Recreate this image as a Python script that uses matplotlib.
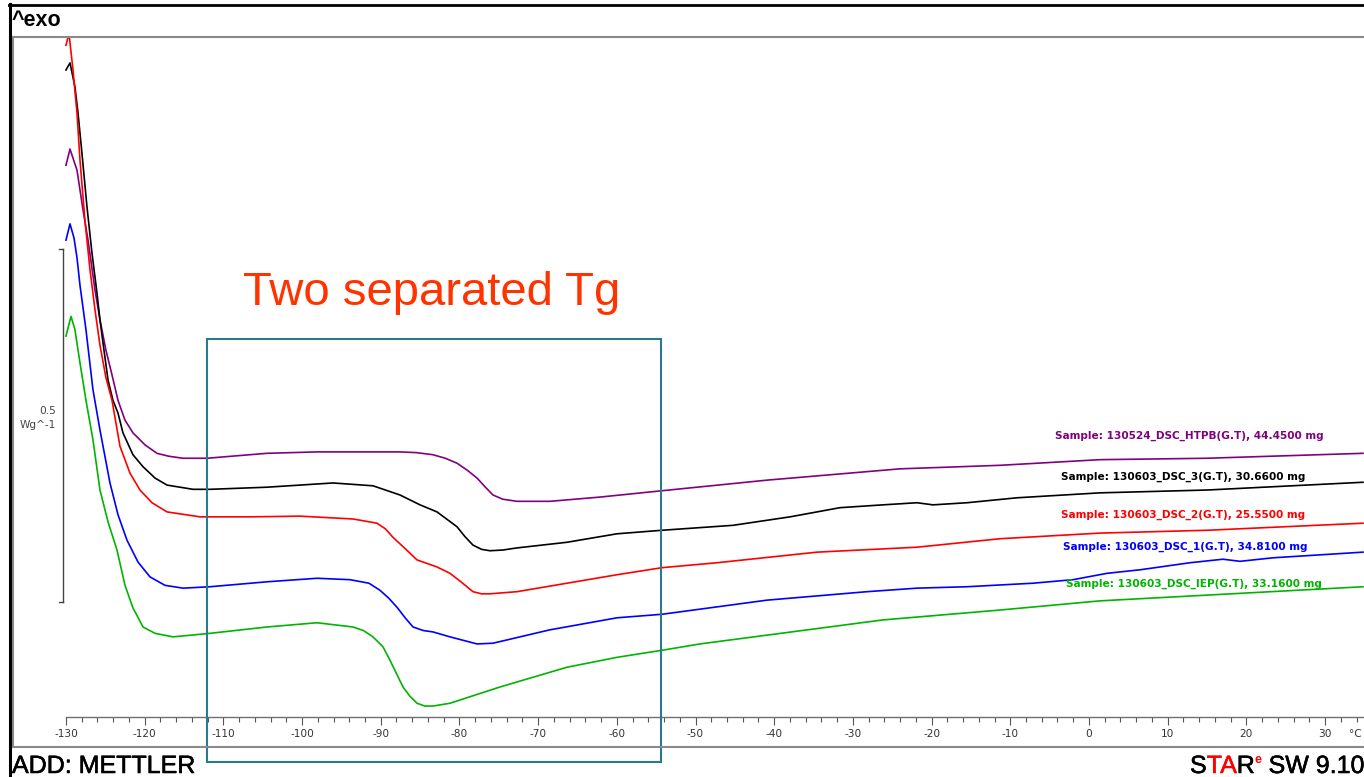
import numpy as np
import matplotlib
matplotlib.use("Agg")
import matplotlib.pyplot as plt
import matplotlib.patheffects as pe
from matplotlib.patches import Rectangle
from matplotlib.lines import Line2D
from matplotlib.ticker import FixedLocator

plt.rcParams["axes.unicode_minus"] = False

# temperatures in degC, heat flow in W/g (arbitrary offset, exo up)
htpb_t = [-130.0, -129.49, -128.6, -127.84, -127.2, -126.31, -125.68, -124.92, -124.15, -123.39,
          -122.5, -121.49, -119.96, -118.44, -117.0, -115.13, -112.08, -104.46, -98.1, -93.91,
          -87.56, -85.5, -83.36, -81.8, -80.31, -79.0, -77.77, -76.7, -75.74, -74.5,
          -72.69, -68.49, -62.14, -54.26, -40.92, -24.02, -11.31, 1.4, 15.0, 34.82]
htpb_q = [0.824, 0.847, 0.817, 0.761, 0.718, 0.647, 0.605, 0.562, 0.527, 0.491,
          0.463, 0.445, 0.428, 0.416, 0.412, 0.409, 0.409, 0.416, 0.418, 0.418,
          0.418, 0.417, 0.414, 0.409, 0.402, 0.392, 0.381, 0.368, 0.357, 0.351,
          0.348, 0.348, 0.354, 0.363, 0.378, 0.394, 0.399, 0.407, 0.409, 0.416]

dsc3_t = [-130.0, -129.49, -128.86, -128.47, -127.97, -127.33, -126.7, -126.06, -125.68, -125.17,
          -124.66, -124.03, -123.39, -122.76, -121.49, -120.21, -118.69, -117.16, -113.86, -111.7,
          -104.46, -96.07, -90.99, -87.56, -85.01, -82.85, -80.31, -79.3, -78.28, -77.2,
          -76.12, -74.5, -72.69, -66.33, -59.98, -54.26, -45.24, -37.99, -31.64, -26.18,
          -21.86, -19.82, -15.5, -9.15, 1.4, 15.0, 34.82]
dsc3_q = [0.959, 0.969, 0.935, 0.898, 0.841, 0.765, 0.7, 0.643, 0.605, 0.562,
          0.52, 0.491, 0.473, 0.445, 0.414, 0.397, 0.381, 0.371, 0.365, 0.365,
          0.368, 0.374, 0.37, 0.357, 0.343, 0.333, 0.312, 0.298, 0.286, 0.28,
          0.278, 0.279, 0.282, 0.29, 0.302, 0.307, 0.314, 0.326, 0.339, 0.343,
          0.346, 0.343, 0.346, 0.353, 0.36, 0.364, 0.375]

dsc2_t = [-130.0, -129.62, -129.11, -128.6, -128.22, -127.59, -126.95, -126.31, -125.68, -124.92,
          -124.15, -123.14, -121.87, -120.6, -119.07, -117.16, -112.97, -106.62, -100.26, -93.53,
          -90.48, -89.4, -88.45, -86.9, -85.39, -82.85, -81.2, -79.7, -78.28, -77.2,
          -76.12, -72.69, -66.33, -59.98, -54.26, -47.27, -34.56, -21.86, -11.31, 1.4,
          15.0, 34.82]
dsc2_q = [0.994, 1.011, 0.959, 0.898, 0.831, 0.746, 0.676, 0.619, 0.569, 0.523,
          0.491, 0.426, 0.388, 0.364, 0.346, 0.333, 0.326, 0.326, 0.327, 0.323,
          0.317, 0.309, 0.297, 0.281, 0.265, 0.255, 0.246, 0.233, 0.22, 0.217,
          0.217, 0.22, 0.232, 0.244, 0.254, 0.261, 0.276, 0.283, 0.295, 0.303,
          0.307, 0.317]

dsc1_t = [-130.0, -129.49, -128.98, -128.6, -128.22, -127.46, -126.57, -125.68, -124.41, -123.39,
          -122.25, -120.85, -119.33, -117.42, -115.13, -111.7, -104.46, -98.1, -93.91, -91.5,
          -90.1, -89.0, -87.94, -86.9, -85.9, -84.6, -83.36, -81.2, -77.77, -75.74,
          -68.49, -59.98, -54.26, -40.92, -28.21, -21.86, -15.5, -7.11, -2.03, 2.29,
          6.48, 12.84, 17.03, 19.19, 23.39, 34.82]
dsc1_q = [0.718, 0.741, 0.721, 0.693, 0.654, 0.591, 0.506, 0.449, 0.374, 0.329,
          0.293, 0.262, 0.241, 0.229, 0.225, 0.227, 0.234, 0.239, 0.237, 0.232,
          0.222, 0.211, 0.198, 0.183, 0.17, 0.165, 0.163, 0.156, 0.146, 0.147,
          0.166, 0.183, 0.188, 0.208, 0.22, 0.225, 0.227, 0.232, 0.237, 0.246,
          0.251, 0.261, 0.266, 0.263, 0.268, 0.276]

iep_t = [-130.0, -129.36, -128.86, -128.22, -127.46, -126.57, -125.68, -124.66, -123.52, -122.5,
         -121.49, -120.21, -118.69, -116.4, -111.7, -104.46, -98.1, -93.53, -92.2, -90.99,
         -89.72, -88.83, -88.0, -87.17, -86.3, -85.39, -84.4, -83.36, -81.2, -74.85,
         -66.33, -59.98, -54.26, -49.43, -26.18, -11.31, 1.4, 34.82]
iep_q = [0.582, 0.61, 0.591, 0.544, 0.491, 0.435, 0.364, 0.319, 0.279, 0.229,
         0.197, 0.17, 0.161, 0.156, 0.161, 0.17, 0.176, 0.17, 0.165, 0.156,
         0.142, 0.123, 0.104, 0.085, 0.072, 0.062, 0.058, 0.058, 0.062, 0.085,
         0.113, 0.127, 0.137, 0.146, 0.18, 0.194, 0.207, 0.227]

labels = ["Sample: 130524_DSC_HTPB(G.T), 44.4500 mg",
          "Sample: 130603_DSC_3(G.T), 30.6600 mg",
          "Sample: 130603_DSC_2(G.T), 25.5500 mg",
          "Sample: 130603_DSC_1(G.T), 34.8100 mg",
          "Sample: 130603_DSC_IEP(G.T), 33.1600 mg"]
colors = ["#800080", "#000000", "#ff0000", "#0000ff", "#00b400"]
curves = [(htpb_t, htpb_q), (dsc3_t, dsc3_q), (dsc2_t, dsc2_q), (dsc1_t, dsc1_q), (iep_t, iep_q)]
label_pos = [(-4.3, 0.4405), (-3.6, 0.3824), (-3.6, 0.3286), (-3.3, 0.2833), (-2.9, 0.2309)]

W, H = 1364, 777
def fx(px):
    return px / W
def fy(py):
    return 1 - py / H

fig = plt.figure(figsize=(W / 100, H / 100), dpi=100)
fig.patch.set_facecolor("white")

ax = fig.add_axes([fx(12), fy(747), 1352 / W, 710 / H])
ax.set_xlim(-136.86, 34.95)
ax.set_ylim(0, 1.0057)
for s in ["left", "top", "right"]:
    ax.spines[s].set_visible(False)
ax.spines["bottom"].set_position(("data", 0.0425))
ax.spines["bottom"].set_bounds(-130, 35)
ax.spines["bottom"].set_color("#707070")
ax.spines["bottom"].set_linewidth(1.0)
ax.set_yticks([])
ax.set_xticks(range(-130, 31, 10))
ax.xaxis.set_minor_locator(FixedLocator([v for v in range(-130, 35, 2) if v % 10 != 0]))
ax.tick_params(axis="x", which="major", length=6, width=0.8, color="#555555",
               labelsize=7.6, labelcolor="#333333", pad=3)
ax.tick_params(axis="x", which="minor", length=3.5, width=0.8, color="#555555")

for (t, q), c in zip(curves, colors):
    ax.plot(t, q, color=c, lw=1.2, solid_joinstyle="round")

for (lx, ly), lab, c in zip(label_pos, labels, colors):
    ax.text(lx, ly, lab, color=c, fontsize=7.6, fontweight="bold", ha="left", va="center")

# scale bar 0.5 W/g
sb_x = -130.38
ax.plot([sb_x, sb_x], [0.2054, 0.7054], color="#444444", lw=1, clip_on=False)
ax.plot([sb_x - 0.5, sb_x], [0.2054, 0.2054], color="#444444", lw=1)
ax.plot([sb_x - 0.5, sb_x], [0.7054, 0.7054], color="#444444", lw=1)
ax.text(-131.3, 0.476, "0.5", fontsize=7.6, color="#444444", ha="right", va="center")
ax.text(-131.3, 0.456, "Wg^-1", fontsize=7.6, color="#444444", ha="right", va="center")

fig.text(fx(1355), fy(734), "°C", fontsize=7.6, color="#333333", ha="center", va="center")

# frames
gray = "#8a8a8a"
fig.add_artist(Line2D([fx(12), 1], [fy(36.5), fy(36.5)], color=gray, lw=1.5))
fig.add_artist(Line2D([fx(12.5), fx(12.5)], [fy(36.5), fy(747)], color=gray, lw=1.5))
fig.add_artist(Line2D([fx(12), 1], [fy(747), fy(747)], color=gray, lw=1.5))
fig.add_artist(Line2D([fx(9), 1], [fy(5), fy(5)], color="black", lw=2))
fig.add_artist(Line2D([fx(10), fx(10)], [fy(4), 0], color="black", lw=2.2))

fig.text(fx(12), fy(20), "^exo", fontsize=15.5, fontweight="bold", family="Liberation Sans",
         ha="left", va="center")
fig.text(fx(12), fy(773), "ADD: METTLER", fontsize=18, family="Liberation Sans",
         ha="left", va="baseline", path_effects=[pe.withStroke(linewidth=0.4, foreground="black")])

# STARe SW 9.10
r = fig.canvas.get_renderer()
x0 = fx(1190)
for txt, c, size, base in [("S", "black", 18, 773), ("TA", "#ff0000", 18, 773), ("R", "black", 18, 773),
                           ("e", "#ff0000", 9, 763), (" SW 9.10", "black", 18, 773)]:
    effects = [pe.withStroke(linewidth=0.4, foreground=c)] if size > 12 else []
    tt = fig.text(x0, fy(base), txt, color=c, fontsize=size, family="Liberation Sans",
                  fontweight="bold" if size < 12 else "normal", ha="left", va="baseline",
                  path_effects=effects)
    bb = tt.get_window_extent(renderer=r)
    x0 = bb.x1 / W

# annotation
fig.add_artist(Rectangle((fx(207), fy(762)), (661 - 207) / W, (762 - 339) / H,
                         transform=fig.transFigure, fill=False, edgecolor="#2a7a8e", lw=1.5))
fig.text(fx(432), fy(305), "Two separated Tg", color="#ff3300", fontsize=34,
         family="Liberation Sans", ha="center", va="baseline")

fig.savefig("out.png", dpi=100)
